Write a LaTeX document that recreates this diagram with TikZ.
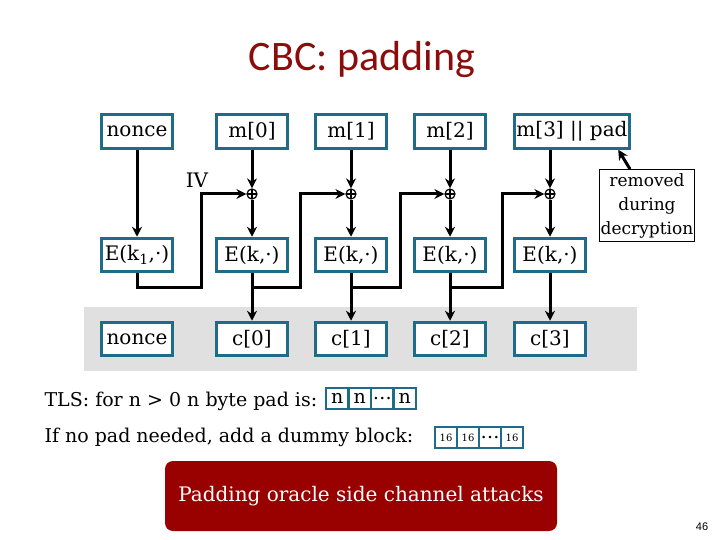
\documentclass[tikz,border=0pt]{standalone}
\usepackage{fontspec}
\setmainfont{DejaVu Serif}
\newfontfamily\titlefont{Carlito}
\newfontfamily\pagefont{Liberation Sans}
\usepackage{xcolor}
\usepackage{tikz}
\usetikzlibrary{arrows.meta}
\definecolor{boxblue}{RGB}{31,107,138}
\definecolor{oraclered}{RGB}{153,0,0}
\definecolor{titlered}{RGB}{140,12,12}
\definecolor{bandgray}{RGB}{224,224,224}
\tikzstyle{block} = [rectangle, draw=boxblue, line width=3pt, fill=white, minimum width=70.5pt, minimum height=33.5pt, inner sep=0pt, font=\fontsize{20}{24}\selectfont]
\tikzstyle{xor} = [circle, draw=black, line width=1.2pt, minimum size=10pt, inner sep=0pt, path picture={\draw[line width=1.2pt] (path picture bounding box.north) -- (path picture bounding box.south) (path picture bounding box.west) -- (path picture bounding box.east);}]
\tikzstyle{cell} = [rectangle, draw=boxblue, line width=2.5pt, minimum width=22.5pt, minimum height=21pt, inner sep=0pt, font=\fontsize{19}{20}\selectfont]
\tikzstyle{smallcell} = [cell, minimum width=22pt, font=\fontsize{10}{12}\selectfont]
\tikzstyle{arrow} = [line width=3pt, -{Stealth[length=10pt, width=10pt]}]
\tikzstyle{plain} = [font=\fontsize{19}{22}\selectfont]

\begin{document}
\begin{tikzpicture}[x=1pt, y=-1pt]
\useasboundingbox (0,0) rectangle (720,540);
% shaded ciphertext band
\fill [bandgray] (84,307) rectangle (637,371);
\node (title) [font=\titlefont\fontsize{42}{48}\selectfont, text=titlered] at (362,60) {CBC: padding};
% plaintext row
\node (nonceA) [block] at (137,131.5) {nonce};
\node (m0) [block] at (252,131.5) {m[0]};
\node (m1) [block] at (351,131.5) {m[1]};
\node (m2) [block] at (450,131.5) {m[2]};
\node (m3) [block, minimum width=115.5pt] at (572,131.5) {m[3] || pad};
\node (iv) [anchor=base, font=\fontsize{20}{24}\selectfont] at (197,188) {IV};
\node (x0) [xor] at (252,194) {};
\node (x1) [xor] at (351,194) {};
\node (x2) [xor] at (450,194) {};
\node (x3) [xor] at (550,194) {};
% cipher row
\node (ek1) [block] at (137,255) {E(k\textsubscript{1},·)};
\node (e0) [block] at (252,255) {E(k,·)};
\node (e1) [block] at (351,255) {E(k,·)};
\node (e2) [block] at (450,255) {E(k,·)};
\node (e3) [block] at (550,255) {E(k,·)};
\node (nonceB) [block] at (137,339) {nonce};
\node (c0) [block] at (252,339) {c[0]};
\node (c1) [block] at (351,339) {c[1]};
\node (c2) [block] at (450,339) {c[2]};
\node (c3) [block] at (550,339) {c[3]};
\coordinate (f0) at (201,287);
\coordinate (f1) at (300,287);
\coordinate (f2) at (400,287);
\coordinate (f3) at (502,287);
\draw [arrow] (nonceA) -- (ek1);
\draw [arrow] (m0) -- (x0);
\draw [arrow] (m1) -- (x1);
\draw [arrow] (m2) -- (x2);
\draw [arrow] (m3.south -| x3) -- (x3);
\draw [arrow] (x0) -- (e0);
\draw [arrow] (x1) -- (e1);
\draw [arrow] (x2) -- (e2);
\draw [arrow] (x3) -- (e3);
\draw [arrow] (e0) -- (c0);
\draw [arrow] (e1) -- (c1);
\draw [arrow] (e2) -- (c2);
\draw [arrow] (e3) -- (c3);
\draw [arrow] (ek1.south) |- (f0) |- (x0.west);
\draw [arrow] (e0.south) |- (f1) |- (x1.west);
\draw [arrow] (e1.south) |- (f2) |- (x2.west);
\draw [arrow] (e2.south) |- (f3) |- (x3.west);
% note on the pad
\node (removed) [draw=black, line width=0.8pt, fill=white, minimum width=93pt, minimum height=72pt, inner sep=1pt, align=center, font=\fontsize{17}{24}\selectfont] at (647,205.5) {removed\\during\\decryption};
\draw [arrow] ([xshift=-17pt]removed.north) -- ([xshift=-13pt]m3.south east);
% padding rules
\node (tls) [plain, anchor=west] at (41,401) {TLS: for n > 0 n byte pad is:};
\node (n1) [cell] at (337.25,398.5) {n};
\node (n2) [cell] at (359.75,398.5) {n};
\node (n3) [cell] at (382.25,398.5) {\ldots};
\node (n4) [cell] at (404.75,398.5) {n};
\node (dummy) [plain, anchor=west] at (41,437) {If no pad needed, add a dummy block:};
\node (s1) [smallcell] at (446,437.5) {16};
\node (s2) [smallcell] at (468,437.5) {16};
\node (s3) [smallcell, font=\fontsize{19}{20}\selectfont] at (490,437.5) {\ldots};
\node (s4) [smallcell] at (512,437.5) {16};
\node (attack) [rectangle, rounded corners=8pt, fill=oraclered, minimum width=392pt, minimum height=70pt, text=white, font=\fontsize{20}{24}\selectfont] at (361,496) {Padding oracle side channel attacks};
\node (page) [font=\pagefont\fontsize{11}{13}\selectfont] at (702,527) {46};
\end{tikzpicture}
\end{document}
